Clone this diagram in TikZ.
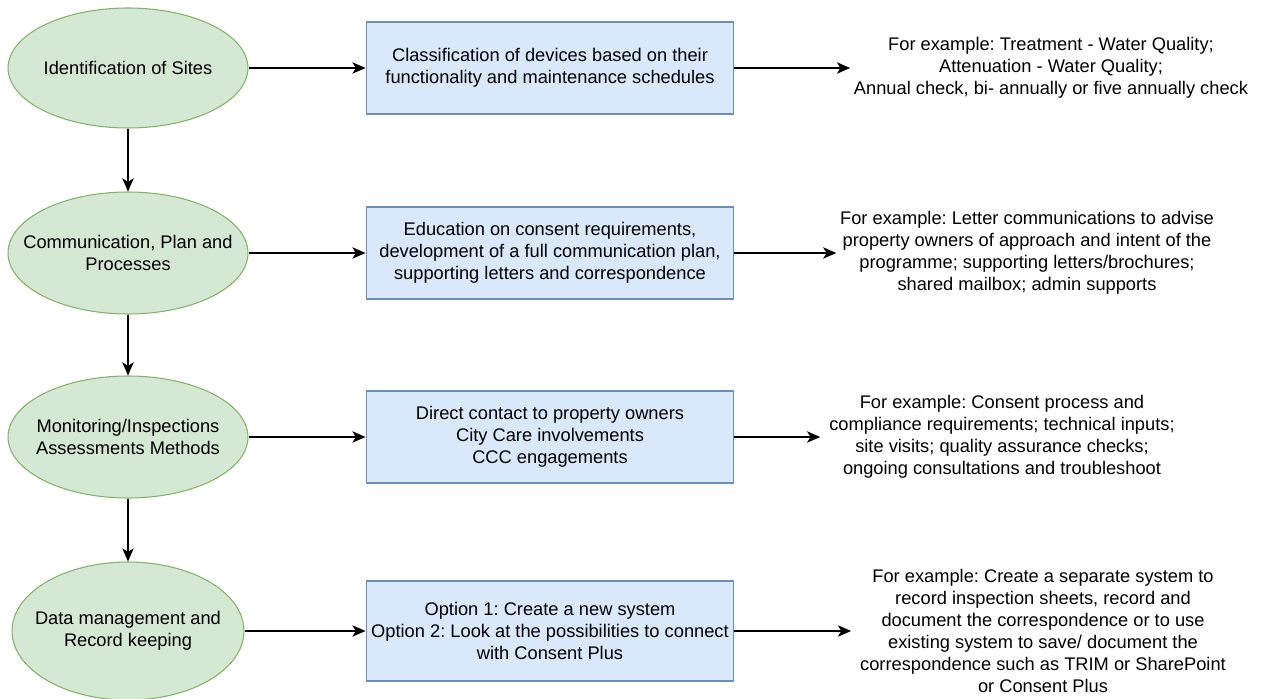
\documentclass[tikz,border=0pt]{standalone}
\usepackage{fontspec}
\setmainfont{Liberation Sans}
\usetikzlibrary{shapes.geometric,arrows.meta}
\definecolor{stagefill}{HTML}{D5E8D4}
\definecolor{stageline}{HTML}{82B366}
\definecolor{taskfill}{HTML}{DAE8FC}
\definecolor{taskline}{HTML}{6C8EBF}
\frenchspacing
\begin{document}
\begin{tikzpicture}[x=0.02cm,y=-0.02cm,
  every node/.style={font=\fontsize{10.4pt}{12.5pt}\selectfont,align=center},
  stage/.style={ellipse,draw=stageline,fill=stagefill,line width=0.6pt,inner xsep=-1cm,inner ysep=0pt,minimum width=4.8cm,minimum height=2.4cm},
  task/.style={rectangle,draw=taskline,fill=taskfill,line width=0.6pt,inner sep=0pt,minimum width=7.36cm,minimum height=1.84cm},
  note/.style={inner xsep=3pt,inner ysep=0pt},
  arr/.style={draw=black,line width=0.6pt,-{Stealth[length=7.5pt,width=6.5pt,inset=2pt]}}]
\useasboundingbox (0,0) rectangle (1262,699);
\node [stage] (e1) at (128,68) {Identification of Sites};
\node [stage,minimum height=2.44cm] (e2) at (128,253) {Communication, Plan and\\Processes};
\node [stage,minimum height=2.44cm] (e3) at (128,437) {Monitoring/Inspections\\Assessments Methods};
\node [stage,minimum width=4.64cm,minimum height=2.76cm] (e4) at (128,631) {Data management and\\Record keeping};
\node [task] (b1) at (550,68) {Classification of devices based on their\\functionality and maintenance schedules};
\node [task] (b2) at (550,253) {Education on consent requirements,\\development of a full communication plan,\\supporting letters and correspondence};
\node [task] (b3) at (550,437) {Direct contact to property owners\\City Care involvements\\CCC engagements};
\node [task,minimum height=2cm] (b4) at (550,631) {Option 1: Create a new system\\Option 2: Look at the possibilities to connect\\with Consent Plus};
\node [note,inner xsep=2pt] (t1) at (1051,68) {For example: Treatment - Water Quality;\\Attenuation - Water Quality;\\Annual check, bi- annually or five annually check};
\node [note,inner xsep=2pt] (t2) at (1027,253) {For example: Letter communications to advise\\property owners of approach and intent of the\\programme; supporting letters/brochures;\\shared mailbox; admin supports};
\node [note,inner xsep=5pt] (t3) at (1002,437) {For example: Consent process and\\compliance requirements; technical inputs;\\site visits; quality assurance checks;\\ongoing consultations and troubleshoot};
\node [note,inner xsep=5pt] (t4) at (1043,631) {For example: Create a separate system to\\record inspection sheets, record and\\document the correspondence or to use\\existing system to save/ document the\\correspondence such as TRIM or SharePoint\\or Consent Plus};
\draw [arr] (e1) -- (e2);
\draw [arr] (e2) -- (e3);
\draw [arr] (e3) -- (e4);
\draw [arr] (e1) -- (b1);
\draw [arr] (e2) -- (b2);
\draw [arr] (e3) -- (b3);
\draw [arr] (e4) -- (b4);
\draw [arr] (b1) -- (t1);
\draw [arr] (b2) -- (t2);
\draw [arr] (b3) -- (t3);
\draw [arr] (b4) -- (t4);
\end{tikzpicture}
\end{document}
